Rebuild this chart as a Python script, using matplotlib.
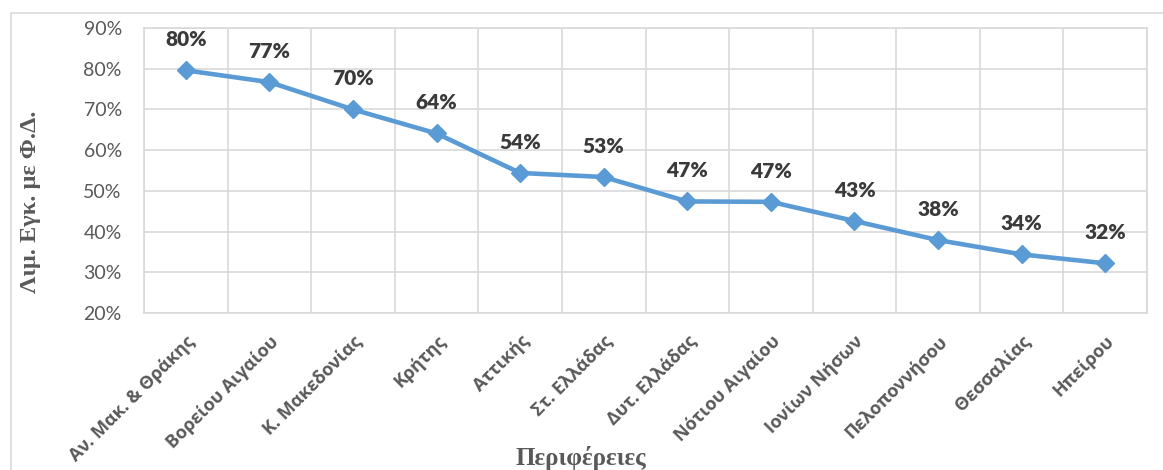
import matplotlib
matplotlib.use("Agg")
import matplotlib.pyplot as plt
from matplotlib.patches import Rectangle
from matplotlib.ticker import FixedLocator, PercentFormatter
from matplotlib.transforms import ScaledTranslation

# regions and share of units with natural gas
regions = ["Αν. Μακ. & Θράκης", "Βορείου Αιγαίου", "Κ. Μακεδονίας", "Κρήτης",
           "Αττικής", "Στ. Ελλάδας", "Δυτ. Ελλάδας", "Νότιου Αιγαίου",
           "Ιονίων Νήσων", "Πελοποννήσου", "Θεσσαλίας", "Ηπείρου"]
shares = [79.6, 76.7, 70.0, 64.1, 54.4, 53.4, 47.4, 47.3, 42.6, 37.9, 34.4, 32.2]
yticks = [20, 30, 40, 50, 60, 70, 80, 90]

line_col = "#5B9BD5"
grid_col = "#D9D9D9"
txt_col = "#595959"
lbl_col = "#3A3A3A"

W, H = 1163, 470
fig = plt.figure(figsize=(W / 100, H / 100), dpi=100)
ax = fig.add_axes([144 / W, 1 - 313 / H, (1147 - 144) / W, (313 - 28) / H])

# light frame round the whole chart
fig.patches.append(Rectangle((11 / W, -0.1), 1.2, 1.1 - 13 / H, transform=fig.transFigure,
                             fill=False, edgecolor=grid_col, linewidth=1.2, zorder=0))

x = list(range(len(regions)))
ax.plot(x, shares, color=line_col, linewidth=3.3, marker="D", markersize=9.5,
        solid_joinstyle="round", zorder=3)

for xi, v in zip(x, shares):
    ax.annotate(f"{v:.0f}%", (xi, v), xytext=(0, 22), textcoords="offset points",
                ha="center", va="center", fontsize=15, fontweight="heavy",
                color=lbl_col, family=["Lato", "DejaVu Sans"])

ax.set_xlim(-0.5, len(regions) - 0.5)
ax.set_ylim(20, 90)
ax.yaxis.set_major_locator(FixedLocator(yticks))
ax.yaxis.set_major_formatter(PercentFormatter(decimals=0))
ax.set_xticks(x)
ax.set_xticklabels(regions, rotation=45, ha="right", rotation_mode="anchor",
                   fontsize=13, fontweight="bold", color=txt_col,
                   family=["Open Sans", "DejaVu Sans"])
ax.xaxis.set_minor_locator(FixedLocator([i - 0.5 for i in range(len(regions) + 1)]))

# nudge the slanted names a little to the right of their ticks
shift = ScaledTranslation(0.15, 0, fig.dpi_scale_trans)
for lab in ax.get_xticklabels():
    lab.set_transform(lab.get_transform() + shift)

for lab in ax.get_yticklabels():
    lab.set_family(["Lato", "DejaVu Sans"])
    lab.set_fontsize(14)
    lab.set_color(txt_col)

ax.tick_params(axis="both", which="both", length=0)
ax.tick_params(axis="y", pad=16)
ax.tick_params(axis="x", pad=14)
ax.grid(True, axis="y", which="major", color=grid_col, linewidth=1.2)
ax.grid(True, axis="x", which="minor", color=grid_col, linewidth=1.2)
ax.set_axisbelow(True)
for s in ax.spines.values():
    s.set_color(grid_col)
    s.set_linewidth(1.2)

fig.text(31 / W, 1 - 202 / H, "Λιμ. Εγκ. με Φ.Δ.", rotation=90, ha="center", va="center",
         fontsize=17.5, fontweight="bold", color=txt_col, family="Liberation Serif")
fig.text(581 / W, 5 / H, "Περιφέρειες", ha="center", va="baseline",
         fontsize=18, fontweight="bold", color=txt_col, family="Liberation Serif")

fig.savefig("out.png", dpi=100)
